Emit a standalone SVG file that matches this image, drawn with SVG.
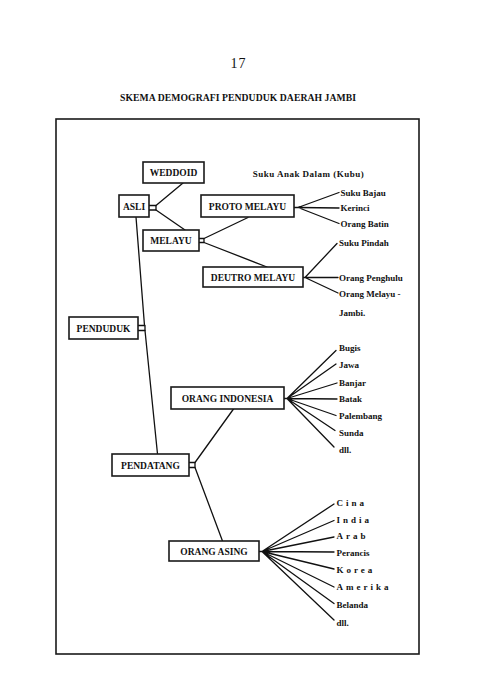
<svg xmlns="http://www.w3.org/2000/svg" width="480" height="700" viewBox="0 0 480 700">
<style>
.bg{fill:#ffffff}
.frame{fill:none;stroke:#1a1a1a;stroke-width:1.6}
.box{fill:#ffffff;stroke:#1a1a1a;stroke-width:1.6}
.lbl{font-family:"Liberation Serif","Times New Roman",serif;font-weight:bold;font-size:9.5px;fill:#111;text-anchor:middle}
.leaf{font-family:"Liberation Serif","Times New Roman",serif;font-weight:bold;font-size:9px;fill:#111}
.sp{letter-spacing:3px}
.ln{fill:none;stroke:#111;stroke-width:1.3;stroke-linecap:round;stroke-linejoin:round}
</style>
<rect class="bg" x="0" y="0" width="480" height="700"/>
<text x="238.5" y="68" font-family="'Liberation Serif','Times New Roman',serif" font-size="14" fill="#111" text-anchor="middle" letter-spacing="1">17</text>
<text x="120" y="101" font-family="'Liberation Serif','Times New Roman',serif" font-size="9.7" font-weight="bold" fill="#111" textLength="236">SKEMA DEMOGRAFI PENDUDUK DAERAH JAMBI</text>
<rect class="frame" x="56" y="119" width="363" height="535"/>

<g id="connectors">
  <path class="ln" d="M149,205.5 H156 V210 H149"/>
  <path class="ln" d="M156,205.5 L183,183"/>
  <path class="ln" d="M156,210 L185,230"/>
  <path class="ln" d="M199,238.5 H204 V242.5 H199"/>
  <path class="ln" d="M204,238.5 L248,217.5"/>
  <path class="ln" d="M204,242.5 L267,267"/>
  <path class="ln" d="M138,325.5 H145 V330.5 H138"/>
  <path class="ln" d="M136,217 L144.5,325.5"/>
  <path class="ln" d="M145,330.5 L157.5,454"/>
  <path class="ln" d="M189,462.5 H195 V467.5 H189"/>
  <path class="ln" d="M195,462.5 L233.5,409"/>
  <path class="ln" d="M195,467.5 L222.5,541"/>
  <!-- PROTO MELAYU fan -->
  <path class="ln" d="M294,207.5 H298 M298,207.5 L339,192.5 M298,207.5 L339,208 M298,207.5 L339,223.5"/>
  <!-- DEUTRO MELAYU fan -->
  <path class="ln" d="M303,277.5 H305 M305,277.5 L337,243.5 M305,277.5 L338,277.5 M305,277.5 L338,293"/>
  <!-- ORANG INDONESIA fan -->
  <path class="ln" d="M284,398.5 H287 M287,398.5 L336,350.5 M287,398.5 L336,364 M287,398.5 L337,383 M287,398.5 L337,399 M287,398.5 L336,415.5 M287,398.5 L335,430.5 M287,398.5 L334,447"/>
  <!-- ORANG ASING fan -->
  <path class="ln" d="M259,551.5 H262 M262,551.5 L334,504 M262,551.5 L334,520.5 M262,551.5 L334,537 M262,551.5 L334,552 M262,551.5 L334,569 M262,551.5 L334,587 M262,551.5 L334,603.5 M262,551.5 L334,620"/>
</g>

<g id="weddoid"><rect class="box" x="143" y="162" width="61" height="21"/><text class="lbl" x="173.5" y="176">WEDDOID</text></g>
<g id="asli"><rect class="box" x="119" y="195" width="30" height="22"/><text class="lbl" x="134" y="209.5">ASLI</text></g>
<g id="proto-melayu"><rect class="box" x="201" y="195" width="93" height="22"/><text class="lbl" x="247.5" y="209.5">PROTO MELAYU</text></g>
<g id="melayu"><rect class="box" x="143" y="230" width="56" height="21"/><text class="lbl" x="171" y="243.5">MELAYU</text></g>
<g id="deutro-melayu"><rect class="box" x="203" y="267" width="100" height="20"/><text class="lbl" x="253" y="280.5">DEUTRO MELAYU</text></g>
<g id="penduduk"><rect class="box" x="69" y="317" width="69" height="22"/><text class="lbl" x="103.5" y="331.5">PENDUDUK</text></g>
<g id="orang-indonesia"><rect class="box" x="171" y="387" width="113" height="22"/><text class="lbl" x="227.5" y="401.5">ORANG INDONESIA</text></g>
<g id="pendatang"><rect class="box" x="112" y="454" width="77" height="22"/><text class="lbl" x="150.5" y="468.5">PENDATANG</text></g>
<g id="orang-asing"><rect class="box" x="169" y="541" width="90" height="20"/><text class="lbl" x="214" y="554.5">ORANG ASING</text></g>

<g id="proto-leaves">
  <text class="leaf" x="252.7" y="177" textLength="111">Suku Anak Dalam (Kubu)</text>
  <text class="leaf" x="340.5" y="195.5">Suku Bajau</text>
  <text class="leaf" x="340.5" y="211">Kerinci</text>
  <text class="leaf" x="340.5" y="227">Orang Batin</text>
</g>
<g id="deutro-leaves">
  <text class="leaf" x="339" y="246">Suku Pindah</text>
  <text class="leaf" x="339" y="280.5">Orang Penghulu</text>
  <text class="leaf" x="339" y="296.5">Orang Melayu -</text>
  <text class="leaf" x="339" y="316">Jambi.</text>
</g>
<g id="indonesia-leaves">
  <text class="leaf" x="339" y="350.5">Bugis</text>
  <text class="leaf" x="339" y="367.5">Jawa</text>
  <text class="leaf" x="339" y="385.5">Banjar</text>
  <text class="leaf" x="339" y="402">Batak</text>
  <text class="leaf" x="339" y="418.5">Palembang</text>
  <text class="leaf" x="339" y="436">Sunda</text>
  <text class="leaf" x="339" y="453">dll.</text>
</g>
<g id="asing-leaves">
  <text class="leaf sp" x="336.5" y="506">Cina</text>
  <text class="leaf sp" x="336.5" y="522.5">India</text>
  <text class="leaf sp" x="336.5" y="539">Arab</text>
  <text class="leaf" x="336.5" y="556">Perancis</text>
  <text class="leaf sp" x="336.5" y="572.5">Korea</text>
  <text class="leaf sp" x="336.5" y="590">Amerika</text>
  <text class="leaf" x="336.5" y="607.5">Belanda</text>
  <text class="leaf" x="336.5" y="625.5">dll.</text>
</g>
</svg>
